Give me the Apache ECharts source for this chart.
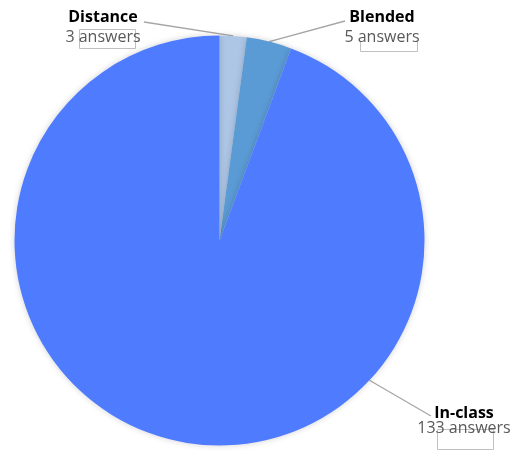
<!DOCTYPE html>
<html><head><meta charset="utf-8">
<script src="https://cdn.jsdelivr.net/npm/echarts@6/dist/echarts.min.js"></script>
<style>html,body{margin:0;padding:0;background:#fff}#c{width:512px;height:453px}</style>
</head><body><div id="c"></div>
<script>
const categories = ['Distance', 'Blended', 'In-class'];
const values = [3, 5, 133];
const colors = ['#aec6e6', '#5b9bd5', '#4f7bff'];

// label layout (not data)
const CENTER = [219.5, 240.5];
const RADIUS = 205;
const labelPos = [[103, 27], [382, 27], [464, 421]];
const labelLineHeights = [[20, 20], [20, 20], [15, 15]];
const lineEnd = [[144, 22], [345, 21], [431, 416]];
const lineAngle = [null, null, 133]; // null = slice mid angle (deg clockwise from top)

const total = values.reduce((a, b) => a + b, 0);
function midAngle(i) {
  let before = 0;
  for (let k = 0; k < i; k++) before += values[k];
  return (before + values[i] / 2) / total * 360;
}
function edgePoint(i) {
  const a = (lineAngle[i] == null ? midAngle(i) : lineAngle[i]) * Math.PI / 180;
  return [CENTER[0] + RADIUS * Math.sin(a), CENTER[1] - RADIUS * Math.cos(a)];
}

const chart = echarts.init(document.getElementById('c'));
chart.setOption({
  animation: false,
  graphic: [
    { type: 'rect', shape: { x: 79.5, y: 29.5, width: 56, height: 19 }, style: { fill: null, stroke: '#c0c0c0', lineWidth: 1 }, z: 0 },
    { type: 'polyline', shape: { points: [[360.5, 42], [360.5, 51.5], [417.5, 51.5], [417.5, 42]] }, style: { fill: null, stroke: '#c0c0c0', lineWidth: 1 }, z: 0 },
    { type: 'rect', shape: { x: 437.5, y: 429.5, width: 56, height: 20 }, style: { fill: null, stroke: '#c0c0c0', lineWidth: 1 }, z: 0 }
  ],
  series: [{
    type: 'pie',
    center: CENTER,
    radius: RADIUS,
    startAngle: 90,
    clockwise: true,
    data: categories.map((n, i) => ({
      name: n, value: values[i], itemStyle: { color: colors[i] },
      label: { rich: {
        b: { fontFamily: 'Open Sans', fontWeight: 'bold', fontSize: 16, color: '#000', lineHeight: labelLineHeights[i][0], align: 'center' },
        v: { fontFamily: 'Open Sans', fontSize: 16, color: '#595959', lineHeight: labelLineHeights[i][1], align: 'center' }
      } }
    })),
    itemStyle: { borderWidth: 0, shadowBlur: 6, shadowColor: 'rgba(0,0,0,0.18)' },
    label: {
      show: true,
      position: 'outside',
      formatter: p => '{b|' + p.name + '}\n{v|' + p.value + ' answers}'
    },
    labelLine: { show: true, lineStyle: { color: '#a6a6a6', width: 1.3 }, length: 10, length2: 10 },
    labelLayout: p => ({
      x: labelPos[p.dataIndex][0], y: labelPos[p.dataIndex][1],
      align: 'center', verticalAlign: 'middle', moveOverlap: null,
      labelLinePoints: [edgePoint(p.dataIndex), lineEnd[p.dataIndex]]
    })
  }]
});
</script></body></html>
